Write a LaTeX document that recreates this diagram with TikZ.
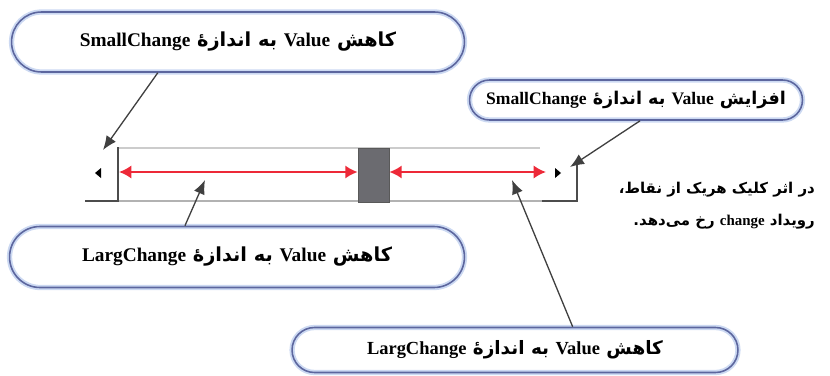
\documentclass[tikz,border=0pt]{standalone}
\usepackage{fontspec}
\setmainfont{Liberation Serif}
\newfontfamily\farsi[Script=Arabic]{DejaVu Sans}
\newfontfamily\latin{Liberation Serif}
\TeXXeTstate=1
\usetikzlibrary{arrows.meta}
\definecolor{ovalrand}{rgb}{0.36,0.40,0.62}
\definecolor{ovalhell}{rgb}{0.80,0.85,0.95}
\definecolor{pfeilrot}{rgb}{0.93,0.16,0.22}
\definecolor{daumengrau}{rgb}{0.42,0.42,0.44}
\newcommand{\latwort}[1]{{\latin\bfseries #1}}
\newcommand{\blasentext}[1]{\makebox[0pt]{\beginR #1\endR}}

\begin{document}
\begin{tikzpicture}[x=0.02cm, y=-0.02cm, % 1 Einheit = 1 Pixel
  blase/.style={rectangle, draw=ovalrand, line width=0.9pt, inner sep=0pt,
    preaction={draw=ovalhell, line width=3pt},
    font=\farsi\bfseries\fontsize{11}{13}\selectfont},
  zeiger/.style={-{Latex[length=8pt,width=6.5pt]}, draw=black!75, line width=0.75pt},
  rotpfeil/.style={{Latex[length=7pt,width=7.5pt]}-{Latex[length=7pt,width=7.5pt]}, draw=pfeilrot, line width=1.2pt},
  daumen/.style={rectangle, fill=daumengrau, draw=black!65, line width=0.4pt, minimum width=0.62cm, minimum height=1.08cm, inner sep=0pt}]

\useasboundingbox (0,0) rectangle (830,375);

% Rahmen der Bildlaufleiste
\draw[black!20, line width=1.2pt] (118,148) -- (540,148); % oben
\draw[black!30, line width=1.2pt] (118,201) -- (545,201); % unten
\draw[black!70, line width=0.8pt] (85,201) -- (118,201) -- (118,147); % linke Taste
\draw[black!70, line width=0.8pt] (542,201) -- (577,201) -- (577,160); % rechte Taste
\fill (95,173) -- (101,168) -- (101,178) -- cycle; % Dreieck links
\fill (561,173) -- (555,168) -- (555,178) -- cycle; % Dreieck rechts

% Schieber und rote Pfeile
\node[daumen] (thumb) at (373.5,175) {};
\coordinate (spurL) at (119,172);
\coordinate (spurR) at (546,172);
\draw[rotpfeil] (spurL) -- (thumb.west |- spurL);
\draw[rotpfeil] (thumb.east |- spurR) -- (spurR);

% Sprechblasen
\node[blase, minimum width=9.06cm, minimum height=1.2cm, rounded corners=0.6cm] (smallDec) at (238,42)
  {\blasentext{کاهش \latwort{Value} به اندازهٔ \latwort{SmallChange}}};
\node[blase, minimum width=6.66cm, minimum height=0.8cm, rounded corners=0.4cm,
  font=\farsi\bfseries\fontsize{10}{12}\selectfont] (smallInc) at (636,100)
  {\blasentext{افزایش \latwort{Value} به اندازهٔ \latwort{SmallChange}}};
\node[blase, minimum width=9.1cm, minimum height=1.22cm, rounded corners=0.61cm] (largeDecL) at (237,257)
  {\blasentext{کاهش \latwort{Value} به اندازهٔ \latwort{LargChange}}};
\node[blase, minimum width=8.92cm, minimum height=0.9cm, rounded corners=0.45cm,
  font=\farsi\bfseries\fontsize{10.5}{12}\selectfont] (largeDecR) at (515,350)
  {\blasentext{کاهش \latwort{Value} به اندازهٔ \latwort{LargChange}}};

% Pfeilspitzen
\coordinate (tasteL) at (103,150);
\coordinate (tasteR) at (570,167);
\coordinate (feldL) at (205,180);
\coordinate (feldR) at (512,180);

\draw[zeiger] (smallDec.-159) -- (tasteL);
\draw[zeiger] (smallInc.-79) -- (tasteR);
\draw[zeiger] (largeDecL.149) -- (feldL);
\draw[zeiger] (largeDecR.22) -- (feldR);

% Hinweis rechts
\node[anchor=east, font=\farsi\bfseries\fontsize{8.5}{11}\selectfont] (hinweis1) at (821,190)
  {\beginR در اثر کلیک هریک از نقاط،\endR};
\node[anchor=east, font=\farsi\bfseries\fontsize{8.5}{11}\selectfont] (hinweis2) at (821,222)
  {\beginR رویداد \latwort{change} رخ می‌دهد.\endR};

\end{tikzpicture}
\end{document}
